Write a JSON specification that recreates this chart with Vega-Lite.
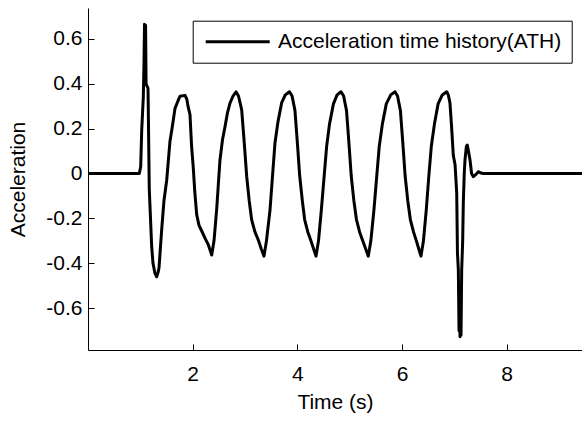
{
  "$schema": "https://vega.github.io/schema/vega-lite/v6.json",
  "width": 494,
  "height": 342,
  "autosize": {"type": "none"},
  "padding": {"left": 88, "top": 8, "right": 0, "bottom": 73},
  "background": "white",
  "config": {
    "view": {"stroke": null},
    "font": "Liberation Sans",
    "axis": {
      "grid": false,
      "domainColor": "#000000",
      "domainWidth": 1,
      "tickColor": "#000000",
      "tickWidth": 1,
      "labelColor": "#000000",
      "titleColor": "#000000",
      "labelFont": "Liberation Sans",
      "titleFont": "Liberation Sans",
      "labelFontSize": 21,
      "titleFontSize": 21,
      "titleFontWeight": "normal"
    }
  },
  "data": {
    "values": [
      {"t": 0, "a": 0},
      {"t": 0.98, "a": 0},
      {"t": 1.007, "a": 0.03},
      {"t": 1.026, "a": 0.19},
      {"t": 1.057, "a": 0.34},
      {"t": 1.07, "a": 0.49},
      {"t": 1.08, "a": 0.665},
      {"t": 1.092, "a": 0.42},
      {"t": 1.1, "a": 0.66},
      {"t": 1.11, "a": 0.4},
      {"t": 1.125, "a": 0.39},
      {"t": 1.147, "a": 0.38},
      {"t": 1.171, "a": -0.07},
      {"t": 1.217, "a": -0.326},
      {"t": 1.242, "a": -0.4},
      {"t": 1.28, "a": -0.445},
      {"t": 1.313, "a": -0.46},
      {"t": 1.34, "a": -0.44},
      {"t": 1.357, "a": -0.42},
      {"t": 1.408, "a": -0.25},
      {"t": 1.452, "a": -0.12},
      {"t": 1.504, "a": -0.03},
      {"t": 1.567, "a": 0.145},
      {"t": 1.599, "a": 0.19},
      {"t": 1.663, "a": 0.29},
      {"t": 1.726, "a": 0.327},
      {"t": 1.758, "a": 0.344},
      {"t": 1.854, "a": 0.348},
      {"t": 1.89, "a": 0.33},
      {"t": 1.911, "a": 0.3},
      {"t": 1.949, "a": 0.262},
      {"t": 1.98, "a": 0.12},
      {"t": 2.012, "a": 0.025},
      {"t": 2.04, "a": -0.08},
      {"t": 2.077, "a": -0.183},
      {"t": 2.12, "a": -0.23},
      {"t": 2.173, "a": -0.256},
      {"t": 2.24, "a": -0.29},
      {"t": 2.299, "a": -0.317},
      {"t": 2.364, "a": -0.363},
      {"t": 2.408, "a": -0.3},
      {"t": 2.459, "a": -0.16},
      {"t": 2.49, "a": -0.05},
      {"t": 2.522, "a": 0.06},
      {"t": 2.57, "a": 0.15},
      {"t": 2.618, "a": 0.208},
      {"t": 2.665, "a": 0.27},
      {"t": 2.713, "a": 0.313},
      {"t": 2.771, "a": 0.345},
      {"t": 2.828, "a": 0.364},
      {"t": 2.876, "a": 0.345},
      {"t": 2.937, "a": 0.283},
      {"t": 2.985, "a": 0.14},
      {"t": 3.033, "a": -0.014},
      {"t": 3.08, "a": -0.12},
      {"t": 3.128, "a": -0.207},
      {"t": 3.19, "a": -0.26},
      {"t": 3.254, "a": -0.296},
      {"t": 3.31, "a": -0.335},
      {"t": 3.363, "a": -0.368},
      {"t": 3.41, "a": -0.3},
      {"t": 3.478, "a": -0.163},
      {"t": 3.52, "a": -0.03},
      {"t": 3.573, "a": 0.136},
      {"t": 3.63, "a": 0.23},
      {"t": 3.7, "a": 0.314},
      {"t": 3.77, "a": 0.35},
      {"t": 3.85, "a": 0.364},
      {"t": 3.9, "a": 0.345},
      {"t": 3.955, "a": 0.28},
      {"t": 4.0, "a": 0.14},
      {"t": 4.045, "a": -0.01},
      {"t": 4.095, "a": -0.12},
      {"t": 4.14, "a": -0.205},
      {"t": 4.2, "a": -0.26},
      {"t": 4.26, "a": -0.3},
      {"t": 4.31, "a": -0.335},
      {"t": 4.357, "a": -0.368},
      {"t": 4.405, "a": -0.3},
      {"t": 4.46, "a": -0.16},
      {"t": 4.51, "a": -0.02},
      {"t": 4.56, "a": 0.12},
      {"t": 4.615, "a": 0.22},
      {"t": 4.69, "a": 0.31},
      {"t": 4.76, "a": 0.35},
      {"t": 4.835, "a": 0.364},
      {"t": 4.885, "a": 0.345},
      {"t": 4.94, "a": 0.28},
      {"t": 4.985, "a": 0.14},
      {"t": 5.03, "a": -0.01},
      {"t": 5.08, "a": -0.12},
      {"t": 5.13, "a": -0.205},
      {"t": 5.19, "a": -0.26},
      {"t": 5.25, "a": -0.3},
      {"t": 5.305, "a": -0.335},
      {"t": 5.356, "a": -0.368},
      {"t": 5.405, "a": -0.3},
      {"t": 5.465, "a": -0.16},
      {"t": 5.515, "a": -0.02},
      {"t": 5.565, "a": 0.12},
      {"t": 5.625, "a": 0.22},
      {"t": 5.7, "a": 0.31},
      {"t": 5.785, "a": 0.35},
      {"t": 5.867, "a": 0.364},
      {"t": 5.915, "a": 0.345},
      {"t": 5.97, "a": 0.28},
      {"t": 6.015, "a": 0.14},
      {"t": 6.06, "a": -0.01},
      {"t": 6.11, "a": -0.12},
      {"t": 6.16, "a": -0.205},
      {"t": 6.22, "a": -0.26},
      {"t": 6.275, "a": -0.3},
      {"t": 6.32, "a": -0.335},
      {"t": 6.363, "a": -0.368},
      {"t": 6.41, "a": -0.3},
      {"t": 6.465, "a": -0.16},
      {"t": 6.51, "a": -0.02},
      {"t": 6.56, "a": 0.12},
      {"t": 6.62, "a": 0.22},
      {"t": 6.69, "a": 0.31},
      {"t": 6.77, "a": 0.35},
      {"t": 6.855, "a": 0.364},
      {"t": 6.885, "a": 0.35},
      {"t": 6.917, "a": 0.314},
      {"t": 6.95, "a": 0.2},
      {"t": 6.981, "a": 0.08},
      {"t": 7.014, "a": 0.04},
      {"t": 7.046, "a": -0.087},
      {"t": 7.06, "a": -0.354},
      {"t": 7.077, "a": -0.43},
      {"t": 7.09, "a": -0.7},
      {"t": 7.097, "a": -0.55},
      {"t": 7.109, "a": -0.727},
      {"t": 7.12, "a": -0.6},
      {"t": 7.128, "a": -0.72},
      {"t": 7.141, "a": -0.43},
      {"t": 7.16, "a": -0.3},
      {"t": 7.172, "a": -0.13},
      {"t": 7.19, "a": 0.0},
      {"t": 7.204, "a": 0.06},
      {"t": 7.23, "a": 0.12},
      {"t": 7.248, "a": 0.127},
      {"t": 7.27, "a": 0.1},
      {"t": 7.3, "a": 0.06},
      {"t": 7.33, "a": 0.0},
      {"t": 7.364, "a": -0.014},
      {"t": 7.41, "a": -0.005},
      {"t": 7.459, "a": 0.008},
      {"t": 7.51, "a": 0.002},
      {"t": 7.554, "a": 0},
      {"t": 9.44, "a": 0}
    ]
  },
  "layer": [
    {
      "mark": {"type": "line", "strokeWidth": 3, "strokeJoin": "round", "clip": true},
      "encoding": {
        "x": {
          "field": "t",
          "type": "quantitative",
          "scale": {"domain": [0, 9.44], "nice": false, "zero": false},
          "axis": {"orient": "bottom", "title": "Time (s)", "values": [2, 4, 6, 8], "ticks": false, "labelPadding": 13, "titlePadding": 7}
        },
        "y": {
          "field": "a",
          "type": "quantitative",
          "scale": {"domain": [-0.786, 0.737], "nice": false, "zero": false},
          "axis": {
            "orient": "left",
            "title": "Acceleration",
            "values": [-0.6, -0.4, -0.2, 0, 0.2, 0.4, 0.6],
            "labelExpr": "replace(format(datum.value, '.1~f'), '\u2212', '-')",
            "ticks": false,
            "labelPadding": 6,
            "titlePadding": 17
          }
        },
        "color": {
          "datum": "Acceleration time history(ATH)",
          "scale": {"range": ["#000000"]},
          "legend": {
            "title": null,
            "orient": "none",
            "legendX": 104.7,
            "legendY": 12.7,
            "symbolType": "M-2,0H14",
            "symbolSize": 64,
            "symbolStrokeWidth": 3,
            "symbolStrokeColor": "#000000",
            "labelFont": "Liberation Sans",
            "labelFontSize": 21,
            "labelColor": "#000000",
            "labelOffset": 53.8,
            "labelLimit": 400,
            "padding": 10.5,
            "strokeColor": "#000000",
            "fillColor": "#ffffff"
          }
        }
      }
    },
    {
      "mark": {"type": "line", "opacity": 0, "clip": true},
      "encoding": {
        "x": {
          "field": "t",
          "type": "quantitative",
          "scale": {"domain": [0, 9.44], "nice": false, "zero": false},
          "axis": {"orient": "top", "offset": -342, "title": null, "values": [2, 4, 6, 8], "labels": false, "domain": false, "ticks": true, "tickSize": 6}
        },
        "y": {
          "field": "a",
          "type": "quantitative",
          "scale": {"domain": [-0.786, 0.737], "nice": false, "zero": false},
          "axis": {"orient": "right", "offset": -494, "title": null, "values": [-0.6, -0.4, -0.2, 0, 0.2, 0.4, 0.6], "labels": false, "domain": false, "ticks": true, "tickSize": 6}
        }
      }
    }
  ],
  "resolve": {"axis": {"x": "independent", "y": "independent"}}
}
